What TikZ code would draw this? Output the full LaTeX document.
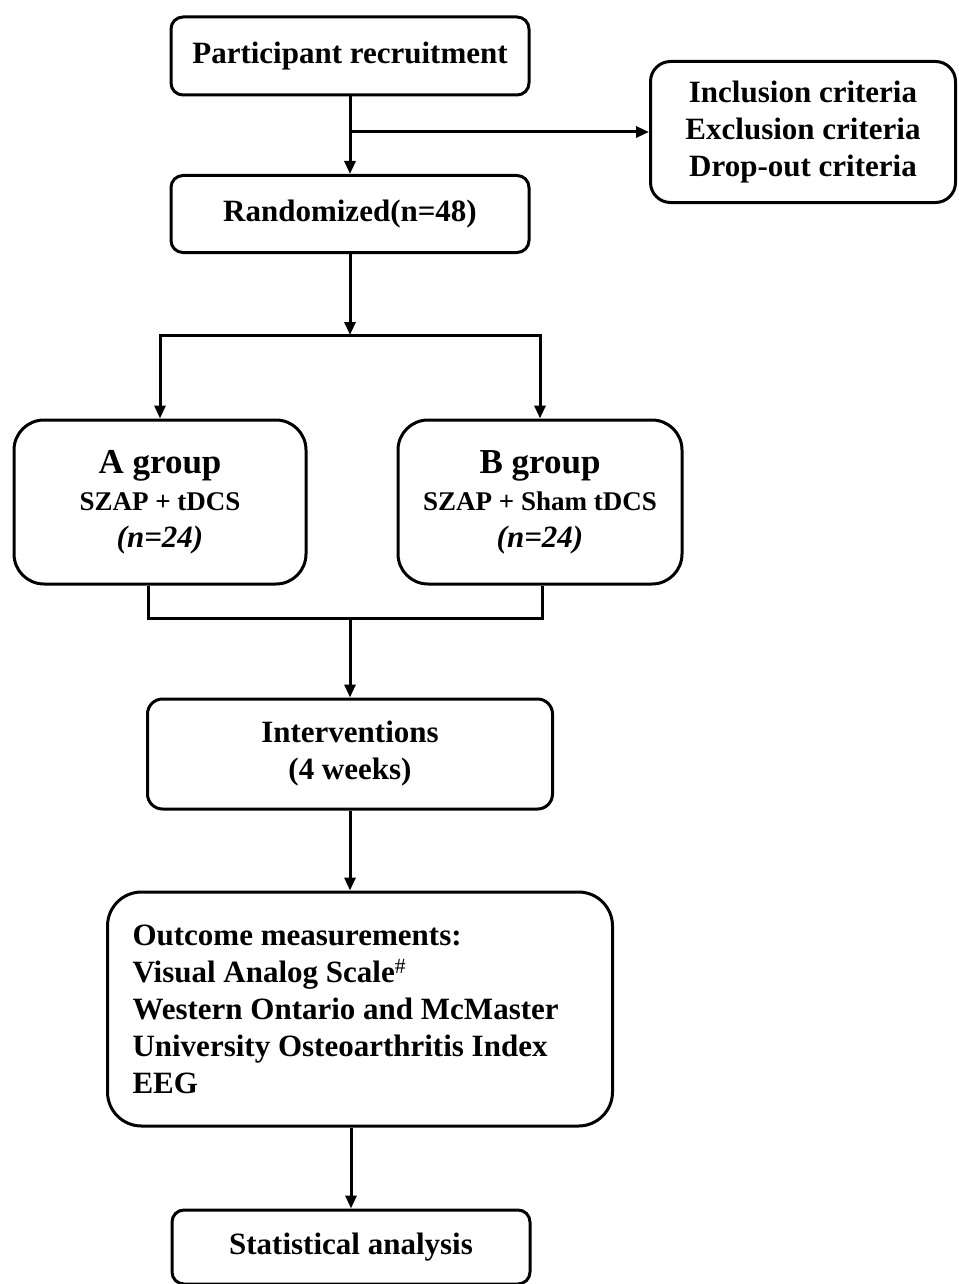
\documentclass[tikz,border=0pt]{standalone}
\usepackage{fontspec}
\setmainfont{Liberation Serif}
\usetikzlibrary{arrows.meta}

\begin{document}
\begin{tikzpicture}[x = 1pt, y = -1pt, line width = 3pt,
  box/.style = {draw, rounded corners = 12pt, align = center, inner sep = 0pt,
    font = \fontsize{31}{37}\selectfont\bfseries},
  arr/.style = {-{Triangle[length = 13pt, width = 11pt]}},
  twoarr/.style = {{Triangle[length = 13pt, width = 11pt]}-{Triangle[length = 13pt, width = 11pt]}}]
\useasboundingbox (0,0) rectangle (958,1284);
\node (recruit) at (350,56) [box, minimum width = 358pt, minimum height = 78pt] {Participant recruitment};
\node (criteria) at (803,132) [box, rounded corners = 20pt, minimum width = 305pt, minimum height = 141pt] {Inclusion criteria\\ Exclusion criteria\\ Drop-out criteria};
\node (random) at (350,214) [box, minimum width = 358pt, minimum height = 77pt] {Randomized(n=48)};
\node (agroup) at (160,502) [box, rounded corners = 30pt, minimum width = 292pt, minimum height = 164pt] {{\fontsize{35}{37}\selectfont A group}\\ {\fontsize{27}{37}\selectfont SZAP + tDCS}\\ \textit{(n=24)}};
\node (bgroup) at (540,502) [box, rounded corners = 30pt, minimum width = 284pt, minimum height = 164pt] {{\fontsize{35}{37}\selectfont B group}\\ {\fontsize{27}{37}\selectfont SZAP + Sham tDCS}\\ \textit{(n=24)}};
\node (interv) at (350,754) [box, rounded corners = 15pt, minimum width = 405pt, minimum height = 110pt] {Interventions\\ (4 weeks)};
\node (outcome) at (360,1009) [box, rounded corners = 34pt, align = flush left, text width = 455pt, inner xsep = 25pt, minimum height = 234pt] {Outcome measurements:\\ Visual Analog Scale{\mdseries\textsuperscript{\#}}\\ Western Ontario and McMaster\\ University Osteoarthritis Index\\ EEG};
\node (stat) at (351,1247) [box, minimum width = 358pt, minimum height = 74pt] {Statistical analysis};
\draw [arr] (recruit.south) -- (recruit.south |- random.north);
\coordinate (split) at (recruit.south |- criteria.west);
\draw [arr] (split) -- (criteria.west);
\coordinate (fork) at ([yshift=-81pt]random.south);
\draw [arr] (random.south) -- (fork);
\draw [twoarr] (agroup.north) -- (agroup.north |- fork) -- (bgroup.north |- fork) -- (bgroup.north);
\draw ([xshift=-12pt]agroup.south) -- ++(0,33) -| ([xshift=2pt]bgroup.south);
\coordinate (join) at ([yshift=-33pt]agroup.south -| interv.north);
\draw [arr] (join) -- (interv.north);
\draw [arr] (interv.south) -- (interv.south |- outcome.north);
\draw [arr] (outcome.south -| stat.north) -- (stat.north);
\end{tikzpicture}
\end{document}
